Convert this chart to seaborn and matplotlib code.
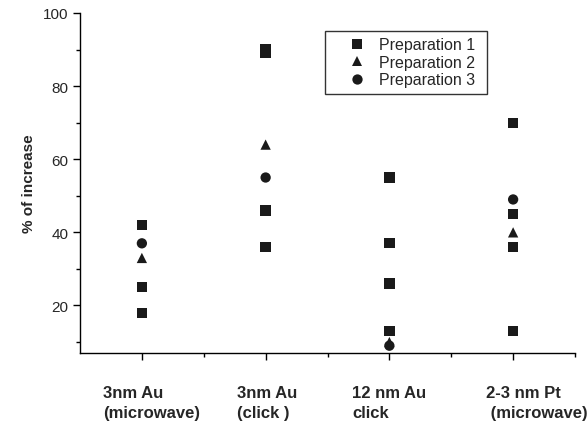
import matplotlib
matplotlib.use("Agg")
import matplotlib.pyplot as plt
import seaborn as sns
import pandas as pd
from matplotlib.ticker import FixedLocator
from matplotlib.transforms import ScaledTranslation

categories = ["3nm Au\n(microwave)", "3nm Au\n(click )", "12 nm Au\nclick", "2-3 nm Pt\n (microwave)"]

prep1_cat = [0, 0, 0, 1, 1, 1, 1, 2, 2, 2, 2, 3, 3, 3, 3]
prep1_val = [42, 25, 18, 90, 89, 46, 36, 55, 37, 26, 13, 70, 45, 36, 13]
prep2_cat = [0, 1, 2, 3]
prep2_val = [33, 64, 10, 40]
prep3_cat = [0, 1, 2, 3]
prep3_val = [37, 55, 9, 49]
series_names = ["Preparation 1", "Preparation 2", "Preparation 3"]

rows = []
for name, cats, vals in zip(series_names, [prep1_cat, prep2_cat, prep3_cat], [prep1_val, prep2_val, prep3_val]):
    for c, v in zip(cats, vals):
        rows.append({"cat": c, "val": v, "prep": name})
df = pd.DataFrame(rows)

sns.set_theme(style="ticks")
plt.rcParams['font.family'] = ['Liberation Sans', 'DejaVu Sans']

fig = plt.figure(figsize=(5.87, 4.27), dpi=100)
ax = fig.add_axes([80/587, 1 - 354/427, (575-80)/587, (354-14)/427])

sns.scatterplot(data=df, x="cat", y="val", hue="prep", style="prep",
                markers={"Preparation 1": "s", "Preparation 2": "^", "Preparation 3": "o"},
                palette={n: "#1a1a1a" for n in series_names},
                s=55, linewidth=0, ax=ax, zorder=3)

ax.set_xlim(-0.5, 3.5)
ax.set_ylim(7, 100)
ax.set_xticks(range(len(categories)))
ax.set_xticklabels(categories, fontweight="bold", fontsize=12, linespacing=1.4)
ax.xaxis.set_minor_locator(FixedLocator([0.5, 1.5, 2.5, 3.5]))
ax.yaxis.set_major_locator(FixedLocator([20, 40, 60, 80, 100]))
ax.yaxis.set_minor_locator(FixedLocator([10, 30, 50, 70, 90]))
ax.tick_params(axis="both", which="major", direction="out", length=5, width=1, color="black", labelsize=11)
ax.tick_params(axis="both", which="minor", direction="out", length=3, width=1, color="black")
ax.tick_params(axis="x", which="major", pad=18, labelsize=12)
ax.set_xlabel("")
ax.set_ylabel("% of increase", fontweight="bold", fontsize=11, labelpad=5)
sns.despine(ax=ax)
for sp in ["left", "bottom"]:
    ax.spines[sp].set_color("black")
    ax.spines[sp].set_linewidth(1)

# left-aligned multi-line labels with per-label horizontal offsets (pixels)
label_dx = [-39, -29, -37, -27]
for lab, dx in zip(ax.get_xticklabels(), label_dx):
    lab.set_horizontalalignment("left")
    lab.set_multialignment("left")
    lab.set_transform(lab.get_transform() + ScaledTranslation(dx / 100, 0, fig.dpi_scale_trans))

ax_w, ax_h = 495, 340
leg = ax.legend(loc="upper left",
                bbox_to_anchor=((325-80)/ax_w, 1 - (32-14)/ax_h, (487-325)/ax_w, 0),
                mode="expand", borderaxespad=0,
                frameon=True, fancybox=False, edgecolor="black", fontsize=11.5,
                handlelength=3.2, handletextpad=-0.2, borderpad=0.4, labelspacing=0.15)
leg.get_frame().set_linewidth(1)

fig.savefig("out.png", dpi=100)
